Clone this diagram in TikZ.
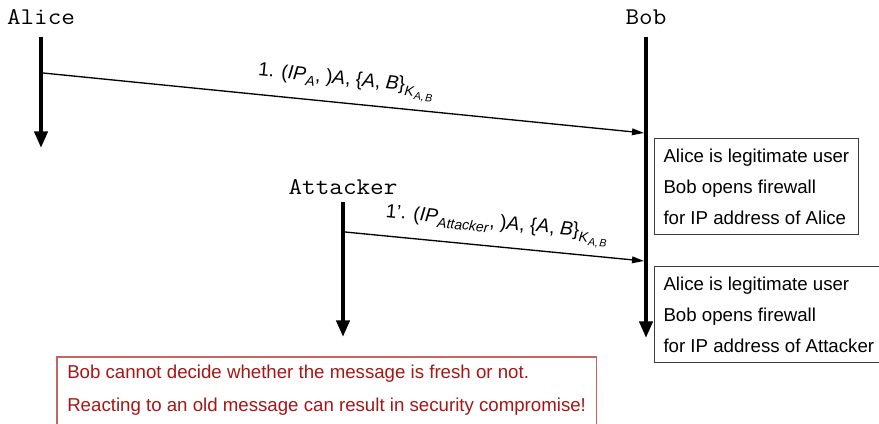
\documentclass[tikz,border=0pt]{standalone}
\usepackage{fontspec}
\setmainfont{Liberation Sans}
\newfontfamily\actorfont{Latin Modern Mono}[FakeStretch=1.1]
\usetikzlibrary{arrows.meta}

\definecolor{warnred}{RGB}{165,22,22}
\definecolor{warnframe}{RGB}{200,100,100}
\definecolor{boxframe}{RGB}{60,60,60}

% subscripts in the message labels
\newcommand{\msub}[1]{\raisebox{-0.5ex}{\fontsize{10.5}{10.5}\selectfont #1}}
\newcommand{\mssub}[1]{\raisebox{-0.45ex}{\fontsize{8}{8}\selectfont #1}}

\begin{document}
\begin{tikzpicture}[x=0.75pt,y=-0.75pt,
  actor/.style={font=\actorfont\fontsize{18}{18}\selectfont, inner sep=0pt, anchor=base},
  lifeline/.style={line width=3pt, -{Triangle[width=9.75pt,length=12.5pt]}},
  msg/.style={line width=1pt, -{Triangle[width=5pt,length=9pt]}},
  msglabel/.style={font=\fontsize{14.5}{14.5}\selectfont, sloped, above=5pt, inner sep=1pt},
  infobox/.style={draw=boxframe, line width=0.8pt, anchor=north west, align=left,
    inner xsep=6.75pt, minimum height=72pt, font=\fontsize{14}{23.25}\selectfont},
  warntext/.style={anchor=north west, align=left, inner xsep=7.5pt, inner ysep=6pt,
    text=warnred, font=\fontsize{14}{24.75}\selectfont},
  warnframe/.style={draw=warnframe, line width=1pt}
]
\useasboundingbox (0,0) rectangle (879,424);
\clip (0,0) rectangle (879,424);

% participants
\node[actor] (alice) at (41,25) {Alice};
\node[actor] (bob) at (646,25) {Bob};
\node[actor] (attacker) at (343,195) {Attacker};

% lifelines
\coordinate (aliceTop) at (41,37);
\coordinate (aliceEnd) at (41,148);
\coordinate (bobTop) at (646,37);
\coordinate (bobEnd) at (646,338);
\coordinate (attTop) at (343,202);
\coordinate (attEnd) at (343,337);
\draw[lifeline] (aliceTop) -- (aliceEnd);
\draw[lifeline] (bobTop) -- (bobEnd);
\draw[lifeline] (attTop) -- (attEnd);

% messages
\coordinate (m1s) at (43,73);
\coordinate (m1e) at (644,133);
\coordinate (m2s) at (345,232);
\coordinate (m2e) at (644,261);
\draw[msg] (m1s) -- node[msglabel] (lab1)
  {1. (\textit{IP}\msub{\textit{A}}, )\textit{A}, \{\textit{A}, \textit{B}\}\msub{\textit{K}\mssub{\textit{A,\kern1pt B}}}}
  (m1e);
\draw[msg] (m2s) -- node[msglabel] (lab2)
  {1'. (\textit{IP}\msub{\textit{Attacker}}, )\textit{A}, \{\textit{A}, \textit{B}\}\msub{\textit{K}\mssub{\textit{A,\kern1pt B}}}}
  (m2e);

% Bob's conclusions
\node[infobox] (box1) at (654,138) {Alice is legitimate user\\Bob opens firewall\\for IP address of Alice};
\node[infobox] (box2) at (654,266) {Alice is legitimate user\\Bob opens firewall\\for IP address of Attacker};

% warning, its frame runs on past the lower edge
\node[warntext] (warn) at (57,357) {Bob cannot decide whether the message is fresh or not.\\Reacting to an old message can result in security compromise!};
\draw[warnframe] (warn.north west) rectangle ([yshift=-8pt]warn.south east);
\end{tikzpicture}
\end{document}
